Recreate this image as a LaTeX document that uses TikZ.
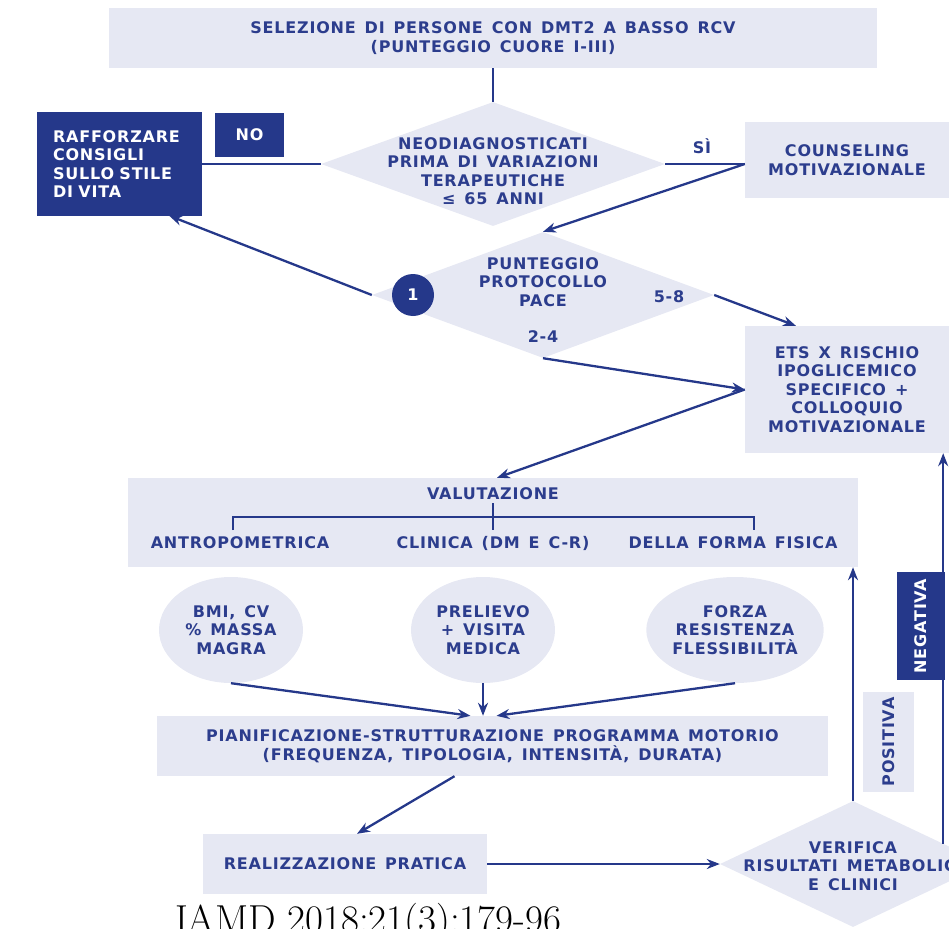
\documentclass[tikz,border=0pt]{standalone}
\usepackage{fontspec}
\newfontfamily\pf{DejaVu Sans}[LetterSpace=5,WordSpace=1.4]
\usetikzlibrary{shapes.geometric,arrows.meta,calc}
\definecolor{light}{HTML}{E6E8F3}
\definecolor{navy}{HTML}{25388A}
\definecolor{tnavy}{HTML}{2C3D8D}
\tikzset{
  lbl/.style={text=tnavy, font=\pf\bfseries\fontsize{16}{18.5}\selectfont, align=center, inner sep=0pt},
  lbox/.style={lbl, fill=light, rectangle},
  dbox/.style={lbl, fill=navy, text=white, rectangle},
  ddia/.style={diamond, fill=light, inner sep=0pt},
  circ/.style={lbl, ellipse, fill=light, minimum width=144pt, minimum height=106pt},
  conn/.style={draw=navy, line width=2.3pt},
  arr/.style={conn, -{Stealth[length=13pt,width=10pt]}},
}
\begin{document}
\begin{tikzpicture}[x=1pt,y=-1pt]
\useasboundingbox (0,0) rectangle (949,928);
\clip (0,0) rectangle (949,928);
% boxes
\node[lbox, minimum width=768pt, minimum height=60pt] (top) at (493,38)
  {SELEZIONE DI PERSONE CON DMT2 A BASSO RCV\\(PUNTEGGIO CUORE I-III)};
\node[ddia, minimum width=344pt, minimum height=124pt] (d1) at (493,164) {};
\node[lbl] (d1t) at (493,171) {NEODIAGNOSTICATI\\PRIMA DI VARIAZIONI\\TERAPEUTICHE\\≤ 65 ANNI};
\node[dbox, minimum width=165pt, minimum height=103pt, text width=133pt, align=left] (raff) at (119.5,164)
  {RAFFORZARE\\CONSIGLI\\SULLO STILE\\DI VITA};
\node[dbox, minimum width=69pt, minimum height=44pt] (no) at (249.5,135) {NO};
\node[lbox, minimum width=204pt, minimum height=76pt] (couns) at (847,160)
  {COUNSELING\\MOTIVAZIONALE};
\node[lbl] (si) at (702,146) {SÌ};
\node[ddia, minimum width=342pt, minimum height=126pt] (d2) at (543,295) {};
\node[lbl] (d2t) at (543,282) {PUNTEGGIO\\PROTOCOLLO\\PACE};
\node[lbl, circle, fill=navy, text=white, minimum size=42pt] (one) at (413,295) {1};
\node[lbl] (five) at (669,297) {5-8};
\node[lbl] (two) at (543,337) {2-4};
\node[lbox, minimum width=204pt, minimum height=127pt] (ets) at (847,389.5)
  {ETS X RISCHIO\\IPOGLICEMICO\\SPECIFICO +\\COLLOQUIO\\MOTIVAZIONALE};
% valutazione
\node[lbox, minimum width=730pt, minimum height=89pt] (val) at (493,522.5) {};
\node[lbl] (valt) at (493,494) {VALUTAZIONE};
\node[lbl] (antro) at (240,543) {ANTROPOMETRICA};
\node[lbl] (clin) at (493,543) {CLINICA (DM E C-R)};
\node[lbl] (forma) at (733,543) {DELLA FORMA FISICA};
\coordinate (b1) at (233,530);
\coordinate (b2) at (754,530);
\draw[conn, line width=1.8pt] (b1) -- (b1 |- 0,517) -- (b2 |- 0,517) -- (b2);
\draw[conn, line width=1.8pt] (493,503) -- (493,530);
% ellipses
\node[circ] (c1) at (231,630) {BMI, CV\\\% MASSA\\MAGRA};
\node[circ] (c2) at (483,630) {PRELIEVO\\+ VISITA\\MEDICA};
\node[circ] (c3) at (735,630) {FORZA\\RESISTENZA\\FLESSIBILITÀ};
\node[lbox, minimum width=671pt, minimum height=60pt] (plan) at (492.5,746)
  {PIANIFICAZIONE-STRUTTURAZIONE PROGRAMMA MOTORIO\\(FREQUENZA, TIPOLOGIA, INTENSITÀ, DURATA)};
\node[lbox, minimum width=284pt, minimum height=60pt] (real) at (345,864) {REALIZZAZIONE PRATICA};
\node[ddia, minimum width=266pt, minimum height=126pt] (d3) at (853,864) {};
\node[lbl] (d3t) at (853,866) {VERIFICA\\RISULTATI METABOLICI\\E CLINICI};
\node[lbox, minimum width=51pt, minimum height=100pt] (pos) at (888.5,742) {};
\node[lbl, rotate=90] (post) at (pos.center) {POSITIVA};
\node[dbox, minimum width=48pt, minimum height=108pt] (neg) at (921,626) {};
\node[lbl, text=white, rotate=90] (negt) at (neg.center) {NEGATIVA};
% connectors
\draw[conn] (top.south) -- (d1.north);
\draw[conn] (d1.west) -- (d1.west -| raff.east);
\coordinate (cj) at (d1.east -| couns.west);
\draw[conn] (d1.east) -- (cj);
\draw[arr] (cj) -- (d2.north);
\draw[arr] (d2.west) -- ($(raff.south west)!0.8!(raff.south east)$);
\draw[arr] (d2.east) -- ($(ets.north west)!0.25!(ets.north east)$);
\draw[arr] (d2.south) -- (ets.west);
\draw[arr] (ets.west) -- ($(val.north)+(4,0)$);
\draw[arr] (c1.south) -- ($(plan.north)+(-22,0)$);
\draw[arr] (c2.south) -- (c2.south |- plan.north);
\draw[arr] (c3.south) -- ($(plan.north)+(4,0)$);
\draw[arr] ($(plan.south)+(-38,0)$) -- ($(real.north)+(12,0)$);
\draw[arr] (real.east) -- (d3.west);
\draw[arr] (d3.north) -- (d3.north |- val.south);
\coordinate (rj) at ($(d3.north)!0.677!(d3.east)$);
\draw[arr] (rj) -- (rj |- ets.south);
% footer
\node[anchor=base west, inner sep=0pt, font=\fontsize{39}{42}\selectfont] (foot) at (175,932) {IAMD 2018:21(3):179-96};
\end{tikzpicture}
\end{document}
